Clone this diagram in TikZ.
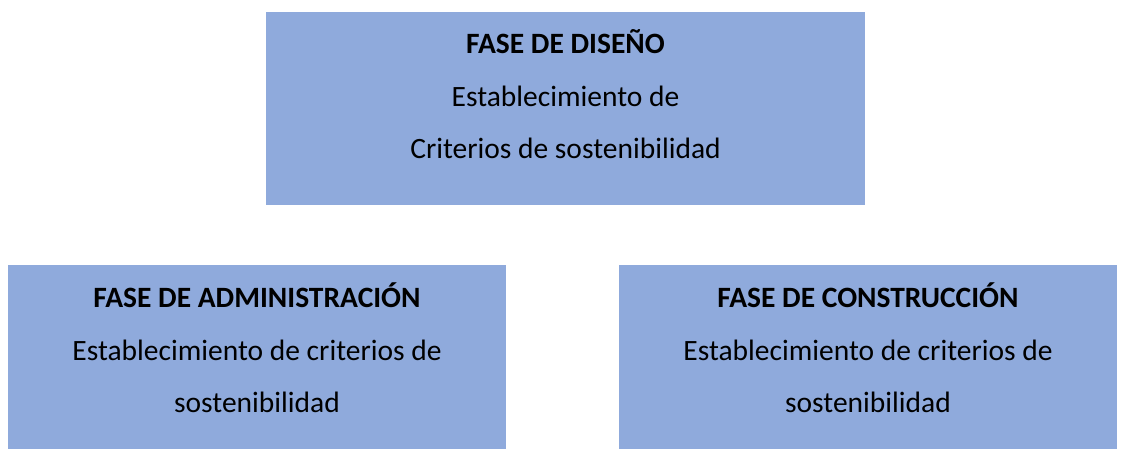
\documentclass[tikz,border=0pt]{standalone}
\usepackage{fontspec}
\setmainfont{Carlito}
\definecolor{faseblue}{HTML}{8FAADC}
\begin{document}
\begin{tikzpicture}[x=1pt, y=-1pt,
  fase/.style={fill=faseblue, draw=none, inner sep=0pt},
  fasetext/.style={align=center, inner sep=0pt,
    font=\fontsize{29.5}{52.5}\selectfont}]
\useasboundingbox (0,0) rectangle (1126,449);

% boxes
\node[fase, minimum width=599pt, minimum height=193pt] (diseno) at (565.5,108.5) {};
\node[fase, minimum width=498pt, minimum height=184pt] (admin) at (257,357) {};
\node[fase, minimum width=498pt, minimum height=184pt] (constr) at (868,357) {};

% texts
\node[fasetext, yshift=14pt] (disenotxt) at (diseno)
  {\textbf{FASE DE DISEÑO}\\Establecimiento de\\Criterios de sostenibilidad};
\node[fasetext, yshift=9pt] (admintxt) at (admin)
  {\textbf{FASE DE ADMINISTRACIÓN}\\Establecimiento de criterios de\\sostenibilidad};
\node[fasetext, yshift=9pt] (constrtxt) at (constr)
  {\textbf{FASE DE CONSTRUCCIÓN}\\Establecimiento de criterios de\\sostenibilidad};
\end{tikzpicture}
\end{document}
